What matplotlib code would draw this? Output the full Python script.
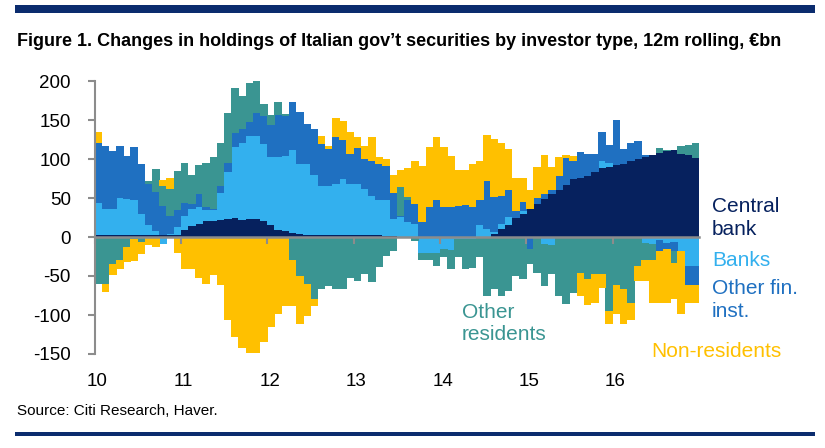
#stacked monthly bars of 12m rolling changes by investor type
import numpy as np
import matplotlib
matplotlib.use("Agg")
from matplotlib import pyplot as plt

plt.rcParams["axes.unicode_minus"] = False

years = ["10", "11", "12", "13", "14", "15", "16"]
series_names = ["Central bank", "Banks", "Other fin. inst.", "Other residents", "Non-residents"]

# one value per month, Jan 2010 .. Dec 2016 (EUR bn)
central_bank = [2, 2, 2, 2, 2, 2, 2, 2, 2, 2, 2, 3, 9, 14, 17, 20, 21, 22, 23, 24, 22, 23, 23, 20,
                15, 9, 8, 5, 4, 3, 2, 2, 2, 2, 2, 2, 2, 2, 2, 2, 1, 1, 0, 0, 0, 0, 0, 0,
                0, 0, 0, 0, 0, 0, 0, 4, 10, 16, 24, 30, 36, 42, 49, 55, 60, 67, 74, 76, 78, 83, 88, 90,
                92, 94, 98, 100, 102, 105, 108, 110, 111, 107, 105, 101]
banks = [41, 34, 34, 48, 47, 46, 28, 13, 6, -9, 2, 10, 18, 22, 21, 14, 13, 35, 60, 92, 99, 107, 106, 99,
         87, 93, 96, 107, 90, 91, 77, 64, 64, 66, 72, 66, 66, 60, 51, 45, 46, 22, 25, 19, 17, -20, -20, -20,
         -15, -17, -3, -2, -2, 16, 10, 2, 7, 9, 0, 3, 0, 0, -9, -10, 0, 0, 0, 0, 0, 0, 10, 5,
         0, 0, 0, 0, -8, -9, -4, -8, -7, -18, -37, -37]
other_fin = [78, 81, 74, 67, 55, 68, 64, 53, 50, 38, 23, 21, 17, 6, 17, 5, 2, 9, 12, 17, 17, 18, 30, 36,
             42, 54, 51, 61, 66, 51, 59, 53, 47, 60, 50, 38, 46, 38, 45, 47, 44, 34, 2, 28, 25, 19, 39, 47,
             38, 38, 40, 41, 38, 32, 62, 45, 36, 35, 9, 12, -16, 8, 6, 5, 18, 34, 23, 33, 28, 23, 37, 23,
             58, 19, 22, 23, 3, 0, -14, -8, -11, 0, -24, -24]
other_res = [-60, -60, -34, -30, -13, -3, -6, 4, 29, 26, 34, 50, 51, 37, 37, 56, 67, 55, 64, 58, 43, 49, 43, 15,
             12, 17, 3, -30, -50, -60, -79, -67, -63, -67, -67, -52, -56, -47, -58, -39, -24, -18, 37, 4, -5, -10, -10, -17,
             -11, -24, -22, -39, -38, -26, -75, -67, -76, -69, -50, -54, -19, -46, -54, -38, -76, -86, -72, -46, -54, -48, -47, -95,
             -61, -67, -84, -37, -21, -20, 6, 2, -15, 10, 13, 19]
non_res = [13, -11, -15, -11, -19, -28, -16, -10, -13, 7, 15, -20, -41, -41, -52, -60, -49, -62, -106, -128, -142, -149, -149, -135,
           -116, -99, -89, -58, -61, -41, -9, 11, 4, 25, 25, 28, 14, 17, 30, 8, 9, 22, 22, 38, 56, 72, 76, 81,
           78, 66, 46, 45, 56, 50, 59, 75, 67, 53, 43, 31, 24, 40, 50, 30, 25, 4, 7, -30, -33, -36, -19, -17,
           -38, -45, -22, -20, -28, -55, -66, -68, -47, -81, -23, -23]

colors = ["#06215e", "#33b0ee", "#1f70c1", "#3a9592", "#ffc000"]
all_series = [central_bank, banks, other_fin, other_res, non_res]

fig = plt.figure(figsize=(8.25, 4.48), dpi=100)
ax = fig.add_axes([94.5/825, 1-354/448, 604.5/825, 273/448])

x = np.arange(len(central_bank))
pos_base = np.zeros(len(x))
neg_base = np.zeros(len(x))
for vals, c in zip(all_series, colors):
    v = np.array(vals, dtype=float)
    p = np.where(v > 0, v, 0)
    n = np.where(v < 0, v, 0)
    # slightly wider than a month and not antialiased, so neighbours meet without seams
    ax.bar(x, p, bottom=pos_base, width=1.06, align="edge", color=c, linewidth=0, antialiased=False)
    ax.bar(x, n, bottom=neg_base, width=1.06, align="edge", color=c, linewidth=0, antialiased=False)
    pos_base += p
    neg_base += n

ax.set_xlim(0, len(x))
ax.set_ylim(-150, 200)
gray = "#8c8c8c"
ax.spines["top"].set_visible(False)
ax.spines["right"].set_visible(False)
ax.spines["left"].set_color(gray)
ax.spines["left"].set_linewidth(1.5)
ax.spines["bottom"].set_position(("data", 0))
ax.spines["bottom"].set_color(gray)
ax.spines["bottom"].set_linewidth(1.8)
ax.spines["bottom"].set_zorder(5)
ax.set_yticks(np.arange(-150, 201, 50))
ax.tick_params(axis="y", colors=gray, length=5, width=1.5, pad=12, labelcolor="black", labelsize=13.5)
ax.set_xticks(np.arange(0, len(x) + 1, 12)[:7])
ax.tick_params(axis="x", colors=gray, length=5, width=1.5, labelbottom=False)
for lab in ax.get_yticklabels():
    lab.set_family(["Liberation Sans", "DejaVu Sans"])

for k, yr in enumerate(years):
    ax.text(12*k + 0.4, -0.1, yr, transform=ax.get_xaxis_transform(), ha="center", va="center",
            fontsize=13.5, family=["Liberation Sans", "DejaVu Sans"])

def ftext(px, py, s, **kw):
    fig.text(px/825, 1-py/448, s, **kw)

narrow = ["Liberation Sans Narrow", "Liberation Sans", "DejaVu Sans"]
reg = ["Liberation Sans", "DejaVu Sans"]
ftext(17, 42, "Figure 1. Changes in holdings of Italian gov\u2019t securities by investor type, 12m rolling, \u20acbn",
      fontsize=13, fontweight="bold", family=narrow, va="center")
ftext(17, 411, "Source: Citi Research, Haver.", fontsize=11, family=narrow, va="center")

ftext(712, 206, "Central", color=colors[0], fontsize=15, family=reg, va="center")
ftext(712, 229, "bank", color=colors[0], fontsize=15, family=reg, va="center")
ftext(712, 261, "Banks", color=colors[1], fontsize=15, family=reg, va="center")
ftext(712, 288, "Other fin.", color=colors[2], fontsize=15, family=reg, va="center")
ftext(712, 311, "inst.", color=colors[2], fontsize=15, family=reg, va="center")
ftext(651, 351, "Non-residents", color=colors[4], fontsize=15, family=reg, va="center")
ftext(462, 312, "Other", color=colors[3], fontsize=15, family=reg, va="center")
ftext(462, 335, "residents", color=colors[3], fontsize=15, family=reg, va="center")

# rules at top and bottom
fig.add_artist(plt.Rectangle((15/825, 1-13/448), 800/825, 8/448, transform=fig.transFigure, color="#0b2c6e", lw=0))
fig.add_artist(plt.Rectangle((15/825, 1-436/448), 800/825, 4/448, transform=fig.transFigure, color="#0b2c6e", lw=0))

fig.savefig("out.png", dpi=100)
